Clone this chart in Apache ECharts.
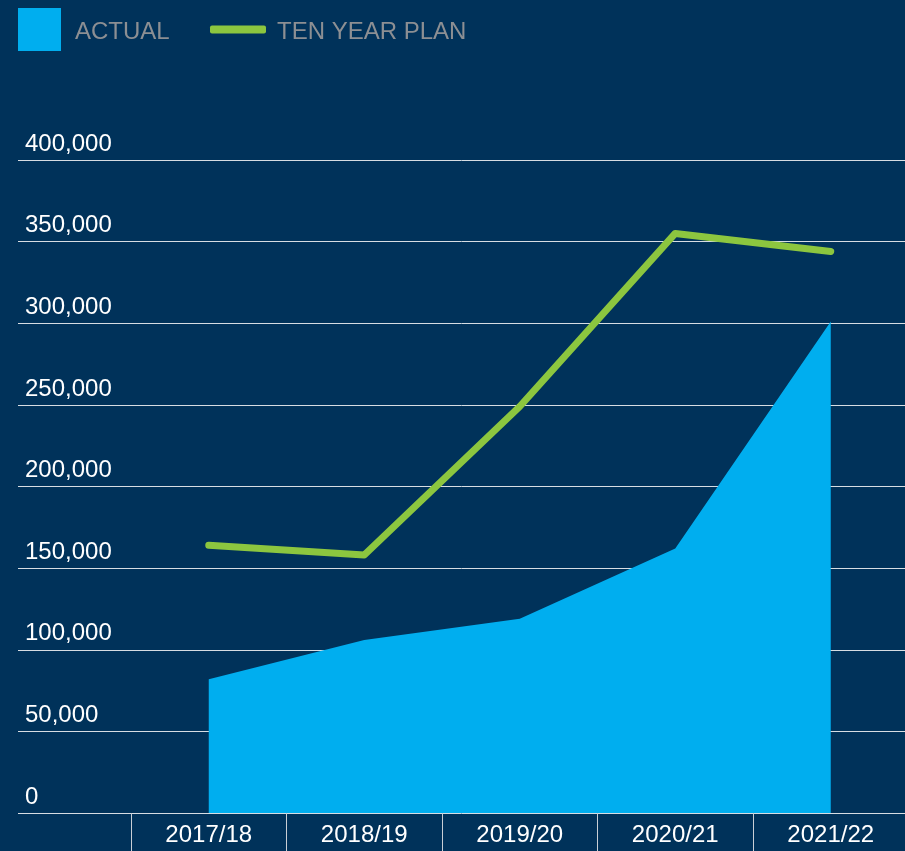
<!DOCTYPE html>
<html>
<head>
<meta charset="utf-8">
<style>
html,body{margin:0;padding:0;background:#00325a;overflow:hidden;}
#chart{width:909px;height:851px;}
</style>
<script src="https://cdn.jsdelivr.net/npm/echarts@6/dist/echarts.min.js"></script>
</head>
<body>
<div id="chart"></div>
<script>
var categories = ['2017/18', '2018/19', '2019/20', '2020/21', '2021/22'];
var actual = [82000, 106000, 119000, 162000, 301000];
var tenYearPlan = [164000, 158000, 249000, 355000, 344000];
var yTicks = [0, 50000, 100000, 150000, 200000, 250000, 300000, 350000, 400000];

var chart = echarts.init(document.getElementById('chart'));
var fontFamily = '"Liberation Sans", Arial, Helvetica, sans-serif';
function fmt(v){ return v.toLocaleString('en-US'); }
var legendRich = {t: {color: '#8c8f93', fontSize: 24, fontFamily: fontFamily, padding: [5, 0, 0, 0]}};

chart.setOption({
  backgroundColor: '#00325a',
  animation: false,
  legend: [
    {
      data: [{name: 'ACTUAL', icon: 'rect'}],
      left: 18, top: 8, padding: 0,
      itemWidth: 43, itemHeight: 43, itemGap: 20,
      formatter: '{t|{name}}',
      textStyle: {color: '#8c8f93', fontSize: 24, fontFamily: fontFamily, padding: [0,0,0,9], rich: legendRich},
      selectedMode: false
    },
    {
      data: [{name: 'TEN YEAR PLAN', icon: 'roundRect'}],
      left: 210, top: 20, padding: 0,
      itemWidth: 56, itemHeight: 8,
      formatter: '{t|{name}}',
      textStyle: {color: '#8c8f93', fontSize: 24, fontFamily: fontFamily, padding: [0,0,0,6], rich: legendRich},
      selectedMode: false
    }
  ],
  grid: [
    {left: 18, right: 4, top: 160, bottom: 38},
    {left: 131, right: 0.5, top: 160, bottom: 38}
  ],
  xAxis: [
    {gridIndex: 0, type: 'value', show: false, min: 0, max: 1},
    {
      gridIndex: 1, type: 'category', data: categories, boundaryGap: true,
      axisLine: {show: false},
      axisTick: {show: true, length: 38, interval: 0, lineStyle: {color: '#c9cfd6', width: 1}},
      axisLabel: {color: '#ffffff', fontSize: 24, fontFamily: fontFamily, margin: 10}
    }
  ],
  yAxis: [
    {
      gridIndex: 0, type: 'value', min: yTicks[0], max: yTicks[yTicks.length-1], interval: 50000,
      axisLine: {show: false}, axisTick: {show: false},
      splitLine: {show: true, lineStyle: {color: '#d7dde3', width: 1}},
      axisLabel: {
        inside: true, margin: 7, color: '#ffffff', fontSize: 24, fontFamily: fontFamily,
        verticalAlign: 'bottom', padding: [0,0,4,0],
        formatter: function(v){ return fmt(v); }
      }
    },
    {
      gridIndex: 1, type: 'value', min: yTicks[0], max: yTicks[yTicks.length-1], interval: 50000,
      show: false, splitLine: {show: false}
    }
  ],
  series: [
    {
      name: 'ACTUAL', type: 'line', xAxisIndex: 1, yAxisIndex: 1,
      data: actual, symbol: 'none', z: 3,
      itemStyle: {color: '#00aeef'},
      lineStyle: {width: 0, color: '#00aeef'},
      areaStyle: {color: '#00aeef', opacity: 1}
    },
    {
      name: 'TEN YEAR PLAN', type: 'line', xAxisIndex: 1, yAxisIndex: 1,
      data: tenYearPlan, symbol: 'none', z: 4,
      itemStyle: {color: '#8cc63f'},
      lineStyle: {width: 7, color: '#8cc63f', cap: 'round', join: 'round'}
    }
  ]
});
</script>
</body>
</html>
